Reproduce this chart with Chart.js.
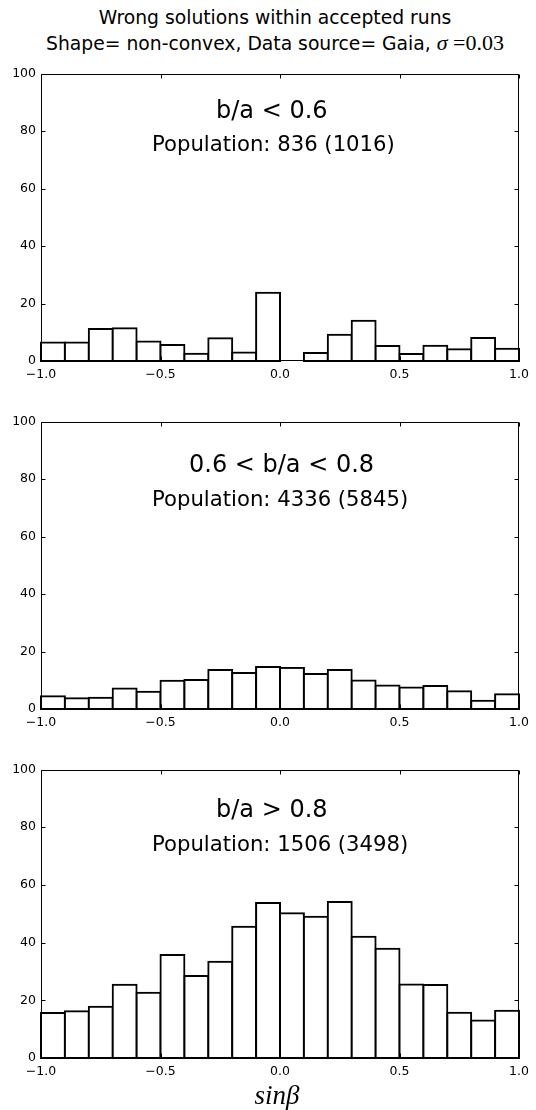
<!DOCTYPE html>
<html>
<head>
<meta charset="utf-8">
<script src="https://cdn.jsdelivr.net/npm/chart.js@4"></script>
<style>
  body { margin: 0; background: #fff; width: 536px; height: 1110px; position: relative; overflow: hidden; font-family: 'DejaVu Sans', sans-serif; color: #000; }
  #title { position: absolute; left: 0; top: 5px; width: 550px; text-align: center; font-size: 18.75px; line-height: 25px; }
  .math { font-family: 'Liberation Serif', serif; font-size: 22px; }
  canvas { position: absolute; left: 0; }
  #xlabel { position: absolute; left: 177px; width: 200px; top: 1080px; text-align: center; font-family: 'Liberation Serif', serif; font-style: italic; font-size: 27px; }
</style>
</head>
<body>
<div id="title">Wrong solutions within accepted runs<br>Shape= non-convex, Data source= Gaia, <span class="math"><i>σ</i> =0.03</span></div>
<canvas id="c1" width="536" height="345" style="top:61px"></canvas>
<canvas id="c2" width="536" height="345" style="top:409px"></canvas>
<canvas id="c3" width="536" height="346" style="top:757px"></canvas>
<div id="xlabel">sinβ</div>
<script>
// histogram bins of sin(beta), width 0.1
const binCenters = [-0.95, -0.85, -0.75, -0.65, -0.55, -0.45, -0.35, -0.25, -0.15, -0.05,
                    0.05, 0.15, 0.25, 0.35, 0.45, 0.55, 0.65, 0.75, 0.85, 0.95];

const lowRatio = [6.4, 6.4, 11.1, 11.4, 6.8, 5.6, 2.5, 7.9, 3.0, 23.7,
                  0, 2.8, 9.1, 14.0, 5.2, 2.4, 5.3, 4.1, 8.0, 4.3];
const midRatio = [4.4, 3.7, 3.9, 7.1, 6.0, 9.8, 10.1, 13.6, 12.5, 14.6,
                  14.3, 12.2, 13.6, 9.9, 8.2, 7.5, 8.0, 6.2, 2.9, 5.1];
const highRatio = [15.6, 16.2, 17.8, 25.4, 22.6, 35.7, 28.4, 33.4, 45.5, 53.7,
                   50.2, 49.0, 54.1, 42.0, 37.9, 25.5, 25.3, 15.7, 13.0, 16.4];

const panelNames = ['b/a < 0.6', '0.6 < b/a < 0.8', 'b/a > 0.8'];
const populations = ['Population: 836 (1016)', 'Population: 4336 (5845)', 'Population: 1506 (3498)'];

const xTicks = [-1, -0.5, 0, 0.5, 1];
const yTicks = [0, 20, 40, 60, 80, 100];

// where the two text lines sit inside each panel (px from plot top-left)
const textLayout = [
  { nameX: 175, nameY: 44, popX: 111, popY: 77 },
  { nameX: 148, nameY: 50, popX: 111, popY: 84 },
  { nameX: 175, nameY: 47, popX: 111, popY: 81 }
];

const font = 'DejaVu Sans';

const frameAndText = {
  id: 'frameAndText',
  afterDatasetsDraw(chart, args, opts) {
    const { ctx, chartArea: a, scales } = chart;
    const L = Math.round(a.left) + 0.5, R = Math.round(a.right) - 0.5;
    const T = Math.round(a.top) + 0.5, B = Math.round(a.bottom) - 0.5;
    ctx.save();
    ctx.strokeStyle = '#000';
    ctx.lineWidth = 1;
    ctx.beginPath();
    ctx.rect(L, T, R - L, B - T);
    scales.x.ticks.forEach(t => {
      const px = Math.round(scales.x.getPixelForValue(t.value)) + 0.5;
      ctx.moveTo(px, B); ctx.lineTo(px, B - 4);
      ctx.moveTo(px, T); ctx.lineTo(px, T + 4);
    });
    scales.y.ticks.forEach(t => {
      const py = Math.round(scales.y.getPixelForValue(t.value)) + 0.5;
      ctx.moveTo(L, py); ctx.lineTo(L + 4, py);
      ctx.moveTo(R, py); ctx.lineTo(R - 4, py);
    });
    ctx.stroke();

    const p = opts.layout;
    ctx.fillStyle = '#000';
    ctx.textBaseline = 'alphabetic';
    ctx.textAlign = 'left';
    ctx.font = '24px "' + font + '"';
    ctx.fillText(opts.name, a.left + p.nameX, a.top + p.nameY);
    ctx.font = '21.2px "' + font + '"';
    ctx.fillText(opts.population, a.left + p.popX, a.top + p.popY);
    ctx.restore();
  }
};

function makePanel(id, values, idx) {
  new Chart(document.getElementById(id), {
    type: 'bar',
    data: {
      datasets: [{
        data: binCenters.map((x, i) => ({ x: x, y: values[i] })),
        backgroundColor: '#ffffff',
        borderColor: '#000000',
        borderWidth: 2,
        borderSkipped: false,
        inflateAmount: 1,
        barPercentage: 1,
        categoryPercentage: 1,
        clip: false
      }]
    },
    options: {
      responsive: false,
      animation: false,
      layout: { padding: { top: 10, right: 17, left: 0, bottom: 0 } },
      plugins: {
        legend: { display: false },
        tooltip: { enabled: false },
        frameAndText: { name: panelNames[idx], population: populations[idx], layout: textLayout[idx] }
      },
      scales: {
        x: {
          type: 'linear',
          min: -1, max: 1,
          offset: false,
          grid: { display: false, drawTicks: false },
          border: { display: false },
          afterBuildTicks: s => { s.ticks = xTicks.map(v => ({ value: v })); },
          afterFit: s => { s.height = 45; },
          ticks: {
            padding: 6,
            maxRotation: 0,
            color: '#000',
            font: { family: font, size: 12.5 },
            callback: v => (v < 0 ? '\u2212' : '') + Math.abs(v).toFixed(1)
          }
        },
        y: {
          min: 0, max: 100,
          grid: { display: false, drawTicks: false },
          border: { display: false },
          afterBuildTicks: s => { s.ticks = yTicks.map(v => ({ value: v })); },
          afterFit: s => { s.width = 41; },
          ticks: {
            padding: 5,
            color: '#000',
            font: { family: font, size: 12.5 }
          }
        }
      }
    },
    plugins: [frameAndText]
  });
}

makePanel('c1', lowRatio, 0);
makePanel('c2', midRatio, 1);
makePanel('c3', highRatio, 2);
</script>
</body>
</html>
